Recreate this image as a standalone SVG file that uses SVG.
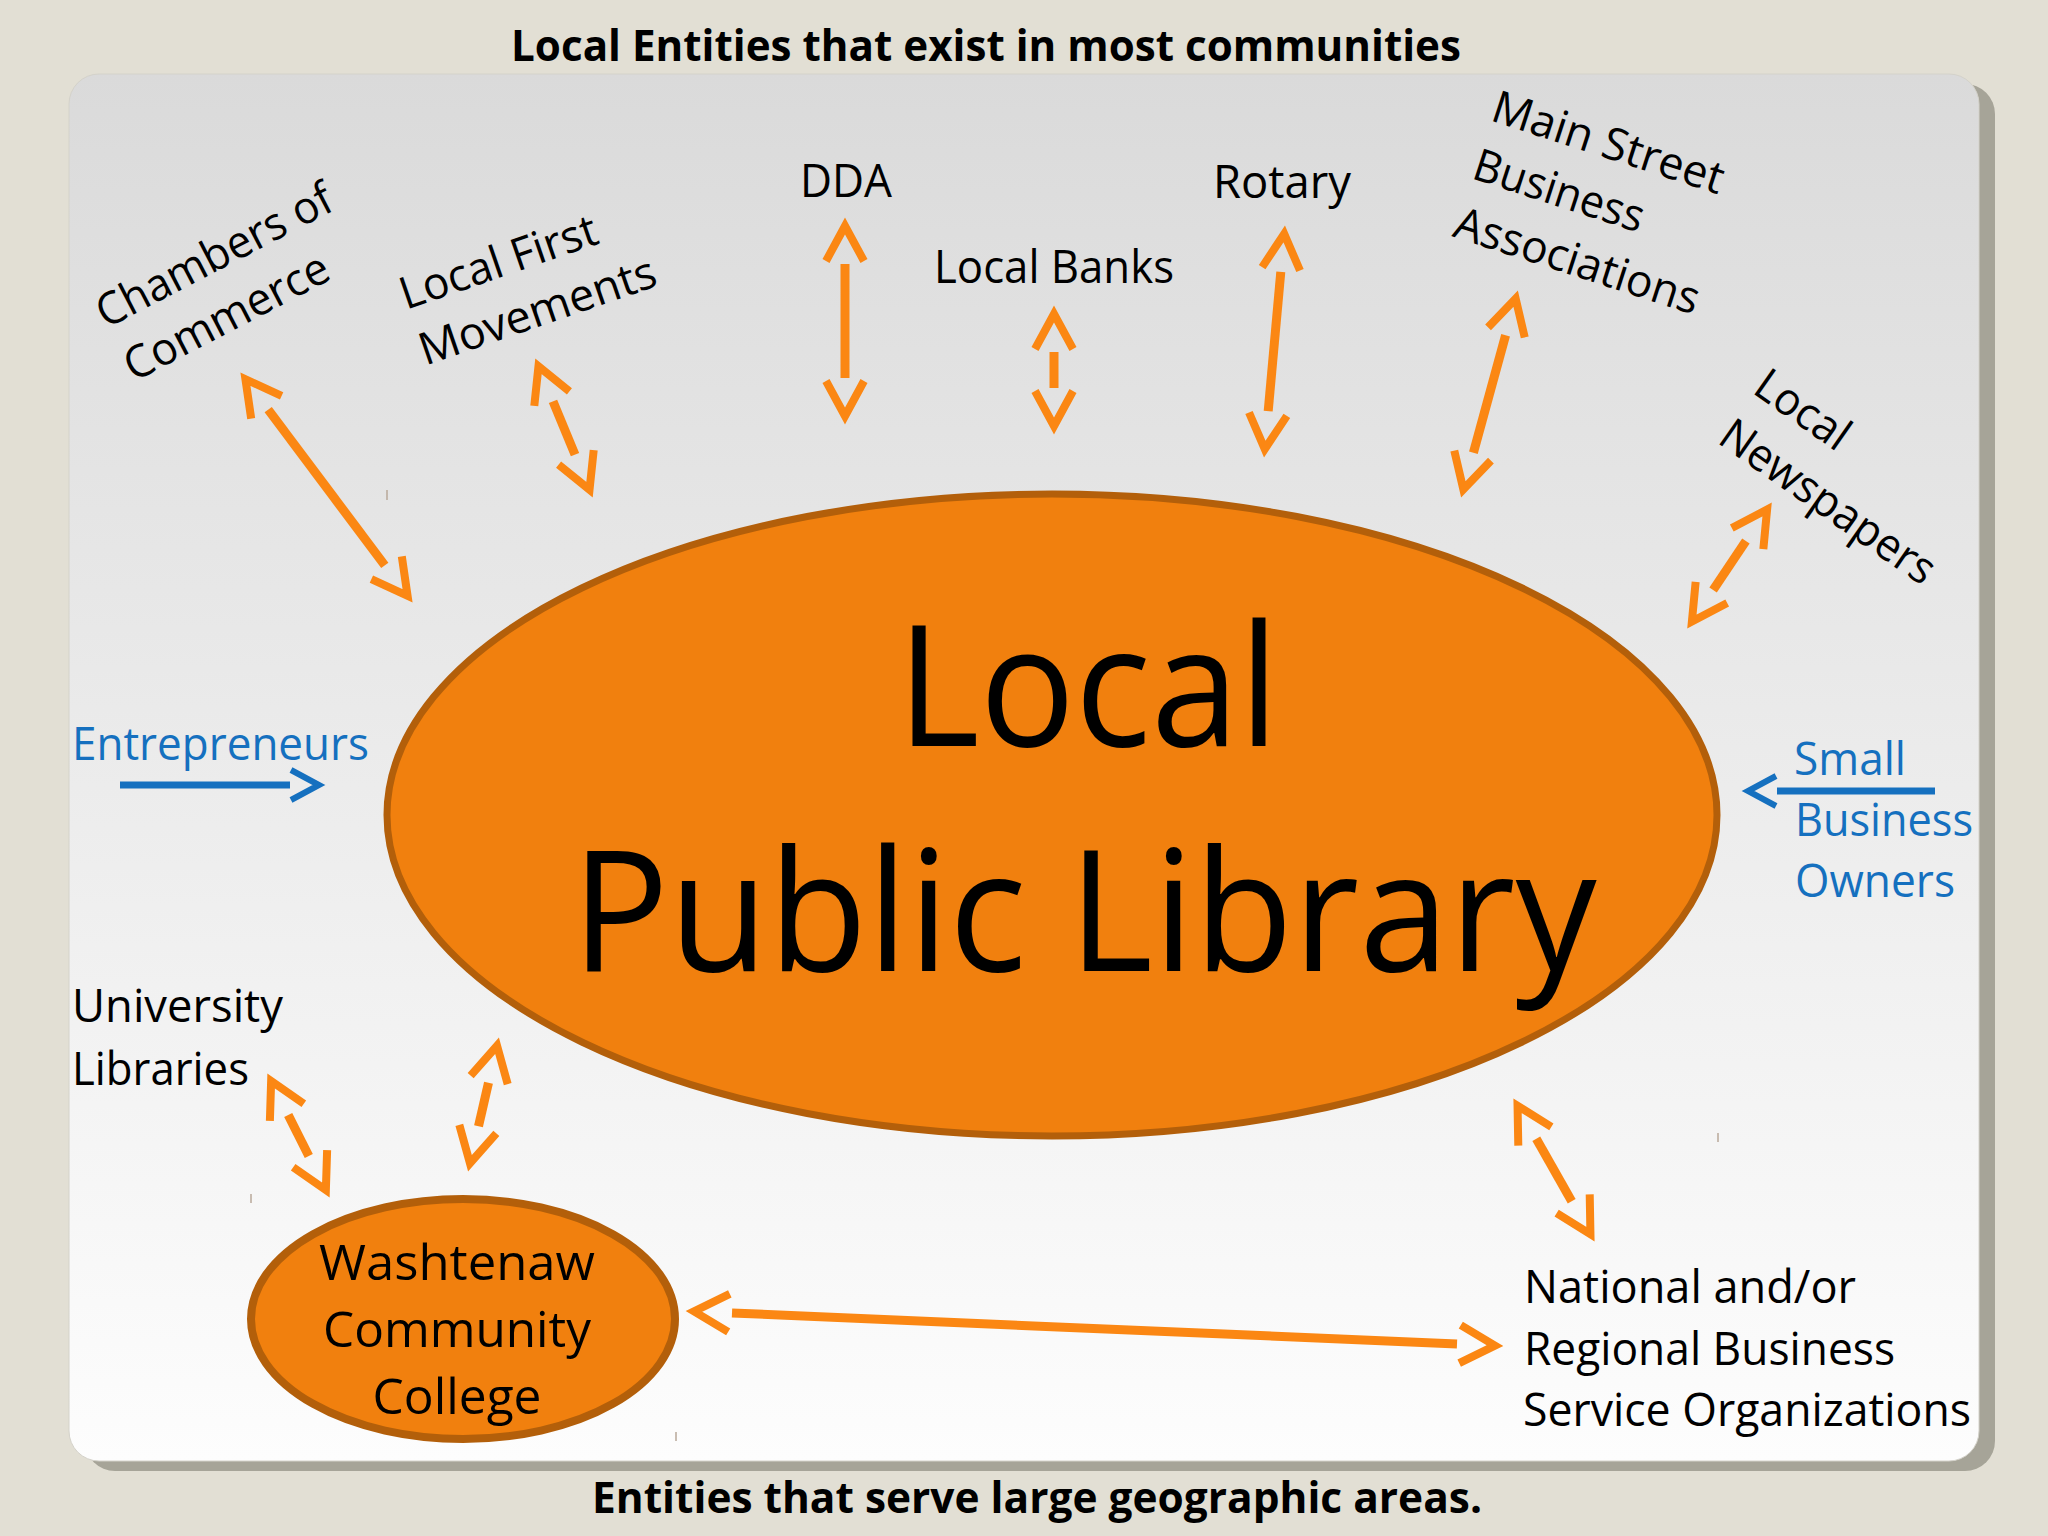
<svg xmlns="http://www.w3.org/2000/svg" width="2048" height="1536" viewBox="0 0 2048 1536">
<defs>
<linearGradient id="panelGrad" x1="0" y1="0" x2="0" y2="1">
<stop offset="0" stop-color="#dadada"/>
<stop offset="1" stop-color="#fdfdfd"/>
</linearGradient>
<marker id="oh" markerUnits="userSpaceOnUse" markerWidth="80" markerHeight="80" viewBox="-10 -40 80 80" refX="0" refY="0" orient="auto-start-reverse" overflow="visible">
<path d="M3,-19 L38,0 L3,19" fill="none" stroke="#fb8713" stroke-width="8" stroke-linejoin="miter" stroke-linecap="butt"/>
</marker>
<marker id="bh" markerUnits="userSpaceOnUse" markerWidth="60" markerHeight="60" viewBox="-10 -30 60 60" refX="0" refY="0" orient="auto" overflow="visible">
<path d="M1,-15 L29,0 L1,15" fill="none" stroke="#1570bf" stroke-width="6" stroke-linejoin="miter"/>
</marker>
<style>
.t{font-family:"Open Sans","Liberation Sans",sans-serif;font-size:45px;fill:#000}
.blue{fill:#1570bf}
.ttl{font-weight:700;font-size:43px}
.big{font-size:168px}
.wcc{font-size:50px}
.arr{fill:none;stroke:#fb8713;stroke-width:9;marker-start:url(#oh);marker-end:url(#oh)}
.barr{fill:none;stroke:#1570bf;stroke-width:7;marker-end:url(#bh)}
.tick{stroke:#b8a89a;stroke-width:1.5}
</style>
</defs>
<rect width="2048" height="1536" fill="#e2dfd4"/>
<g id="panel">
<rect x="85" y="84" width="1910" height="1387" rx="30" fill="#a6a498"/>
<rect x="69" y="74" width="1910" height="1387" rx="30" fill="url(#panelGrad)" stroke="#d4d2ca" stroke-width="1"/>
</g>
<g id="titles">
<text class="t ttl" x="986" y="61" text-anchor="middle" textLength="950" lengthAdjust="spacingAndGlyphs">Local Entities that exist in most communities</text>
<text class="t ttl" x="1037" y="1513" text-anchor="middle" textLength="890" lengthAdjust="spacingAndGlyphs">Entities that serve large geographic areas.</text>
</g>
<g id="connectors">
<path class="arr" d="M268.2,409.6 L384.8,565.4"/>
<path class="arr" d="M553,401.4 L575,454.6"/>
<path class="arr" d="M845,264 L845,378"/>
<path class="arr" d="M1054,352 L1054,388"/>
<path class="arr" d="M1280.8,271.8 L1268.2,411.2"/>
<path class="arr" d="M1505.6,335.3 L1473.4,452.7"/>
<path class="arr" d="M1745.9,541.1 L1713.1,589.9"/>
<path class="arr" d="M288.2,1115 L308.8,1156"/>
<path class="arr" d="M488.5,1082.8 L478.5,1126.2"/>
<path class="arr" d="M1536.3,1138.8 L1571.7,1201.2"/>
<path class="arr" d="M732,1313 L1457,1344"/>
<path class="barr" d="M120,785 L290,785"/>
<path class="barr" d="M1935,791 L1777,791"/>
</g>
<g id="library">
<ellipse cx="1052" cy="815" rx="665" ry="321" fill="#f1800e" stroke="#b35f0a" stroke-width="7"/>
<text class="t big" x="1088" y="746" text-anchor="middle" textLength="382" lengthAdjust="spacingAndGlyphs">Local</text>
<text class="t big" x="1084" y="971" text-anchor="middle" textLength="1025" lengthAdjust="spacingAndGlyphs">Public Library</text>
</g>
<g id="wcc">
<ellipse cx="463" cy="1319" rx="212" ry="120" fill="#f1800e" stroke="#b35f0a" stroke-width="8"/>
<text class="t wcc" x="457" y="1280" text-anchor="middle" textLength="276" lengthAdjust="spacingAndGlyphs">Washtenaw</text>
<text class="t wcc" x="457" y="1347" text-anchor="middle" textLength="268" lengthAdjust="spacingAndGlyphs">Community</text>
<text class="t wcc" x="457" y="1414" text-anchor="middle" textLength="169" lengthAdjust="spacingAndGlyphs">College</text>
</g>
<g id="chambers" transform="translate(106,329) rotate(-27.5)">
<text class="t" x="0" y="0" textLength="260" lengthAdjust="spacingAndGlyphs">Chambers of</text>
<text class="t" x="0" y="60" textLength="225" lengthAdjust="spacingAndGlyphs">Commerce</text>
</g>
<g id="localfirst" transform="translate(406,310) rotate(-19)">
<text class="t" x="0" y="0" textLength="206" lengthAdjust="spacingAndGlyphs">Local First</text>
<text class="t" x="0" y="59" textLength="248" lengthAdjust="spacingAndGlyphs">Movements</text>
</g>
<g id="dda"><text class="t" x="846" y="197" text-anchor="middle" textLength="92" lengthAdjust="spacingAndGlyphs">DDA</text></g>
<g id="banks"><text class="t" x="1054" y="283" text-anchor="middle" textLength="240" lengthAdjust="spacingAndGlyphs">Local Banks</text></g>
<g id="rotary"><text class="t" x="1282" y="198" text-anchor="middle" textLength="138" lengthAdjust="spacingAndGlyphs">Rotary</text></g>
<g id="mainstreet" transform="translate(1489,120) rotate(18)">
<text class="t" x="0" y="0" textLength="241" lengthAdjust="spacingAndGlyphs">Main Street</text>
<text class="t" x="0" y="61" textLength="177" lengthAdjust="spacingAndGlyphs">Business</text>
<text class="t" x="0" y="122" textLength="255" lengthAdjust="spacingAndGlyphs">Associations</text>
</g>
<g id="newspapers" transform="translate(1751,392) rotate(35)">
<text class="t" x="0" y="0" textLength="105" lengthAdjust="spacingAndGlyphs">Local</text>
<text class="t" x="0" y="61" textLength="252" lengthAdjust="spacingAndGlyphs">Newspapers</text>
</g>
<g id="entrepreneurs"><text class="t blue" x="72" y="760" textLength="297" lengthAdjust="spacingAndGlyphs">Entrepreneurs</text></g>
<g id="smallbiz">
<text class="t blue" x="1794" y="775" textLength="112" lengthAdjust="spacingAndGlyphs">Small</text>
<text class="t blue" x="1795" y="836" textLength="178" lengthAdjust="spacingAndGlyphs">Business</text>
<text class="t blue" x="1795" y="897" textLength="160" lengthAdjust="spacingAndGlyphs">Owners</text>
</g>
<g id="university">
<text class="t" x="72" y="1022" textLength="211" lengthAdjust="spacingAndGlyphs">University</text>
<text class="t" x="72" y="1085" textLength="177" lengthAdjust="spacingAndGlyphs">Libraries</text>
</g>
<g id="national">
<text class="t" x="1524" y="1303" textLength="332" lengthAdjust="spacingAndGlyphs">National and/or</text>
<text class="t" x="1524" y="1365" textLength="371" lengthAdjust="spacingAndGlyphs">Regional Business</text>
<text class="t" x="1523" y="1426" textLength="448" lengthAdjust="spacingAndGlyphs">Service Organizations</text>
</g>
<g id="ticks">
<line class="tick" x1="387" y1="490" x2="387" y2="500"/>
<line class="tick" x1="251" y1="1194" x2="251" y2="1203"/>
<line class="tick" x1="676" y1="1432" x2="676" y2="1441"/>
<line class="tick" x1="1718" y1="1133" x2="1718" y2="1142"/>
</g>
</svg>
